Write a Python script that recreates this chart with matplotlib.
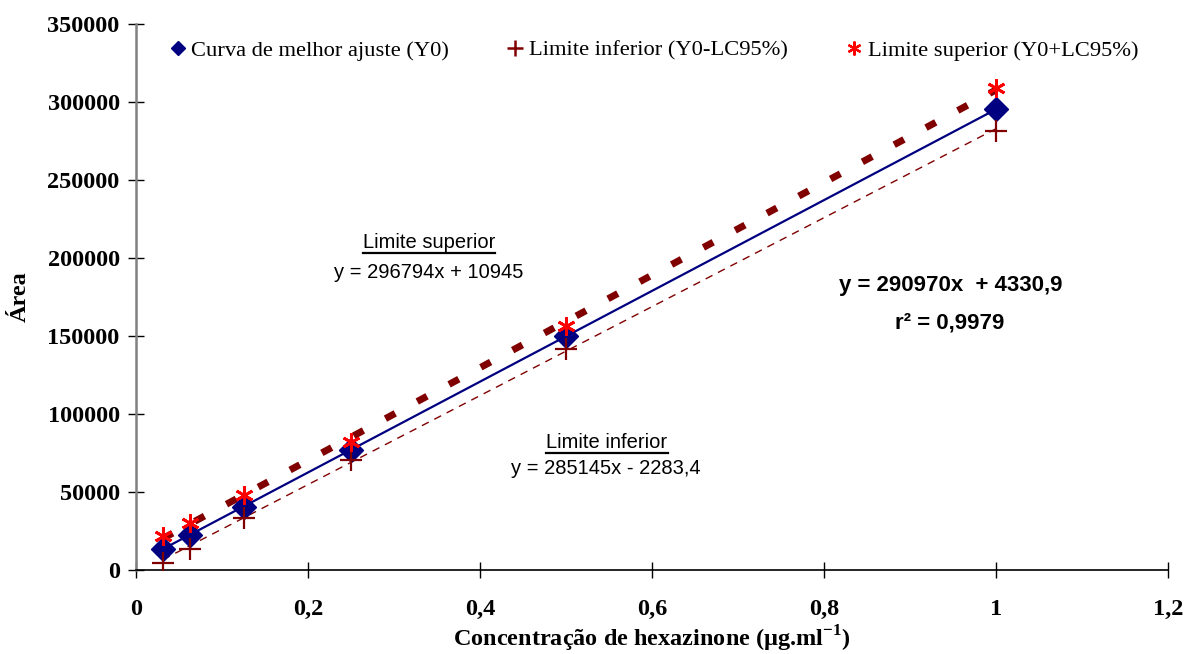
import matplotlib.pyplot as plt
import numpy as np
from matplotlib.lines import Line2D

plt.rcParams['mathtext.fontset'] = 'custom'
plt.rcParams['mathtext.rm'] = 'Liberation Serif:bold'
plt.rcParams['mathtext.bf'] = 'Liberation Serif:bold'

# concentrations (ug/ml) and areas
conc = [0.03125, 0.0625, 0.125, 0.25, 0.5, 1.0]
y0 = [13424, 22516, 40702, 77073, 149816, 295301]        # best fit curve
y_low = [4500, 13500, 33300, 70500, 141700, 281400]      # Y0 - LC95%
y_up = [21800, 30100, 48000, 82000, 156400, 309000]      # Y0 + LC95%

# trendline coefficients (slope, intercept)
fit_y0 = (290970, 4330.9)
fit_up = (296794, 10945)
fit_low = (285145, -2283.4)

xticks = [0, 0.2, 0.4, 0.6, 0.8, 1.0, 1.2]
xticklabels = ['0', '0,2', '0,4', '0,6', '0,8', '1', '1,2']
yticks = [0, 50000, 100000, 150000, 200000, 250000, 300000, 350000]

navy = '#000080'
dred = '#800000'
red = '#FF0000'

fig = plt.figure(figsize=(11.87, 6.54), dpi=100)
ax = fig.add_axes([136/1187, 84/654, 1032/1187, 546/654])

xs = np.array([conc[0], conc[-1]])
ax.plot(xs, fit_up[0]*xs + fit_up[1], color=dred, lw=5,
        linestyle=(0, (1.6, 3.6)), solid_capstyle='butt', zorder=2)
ax.plot(xs, fit_low[0]*xs + fit_low[1], color=dred, lw=1.0,
        linestyle=(0, (5.5, 4.5)), zorder=2)
ax.plot(xs, fit_y0[0]*xs + fit_y0[1], color=navy, lw=1.6, zorder=2)

ax.plot(conc, y0, linestyle='none', marker='D', ms=12.5, color=navy, zorder=3)
ax.plot(conc, y_low, linestyle='none', marker='+', ms=16, mew=1.6, color=dred, zorder=3)
ax.plot(conc, y_up, linestyle='none', marker=(6, 2, 0), ms=13, mew=2, color=red, zorder=4)

ax.set_xlim(0, 1.2)
ax.set_ylim(0, 350000)
ax.set_xticks(xticks)
ax.set_xticklabels(xticklabels)
ax.set_yticks(yticks)
ax.set_yticklabels([str(v) for v in yticks])

for s in ['top', 'right']:
    ax.spines[s].set_visible(False)
ax.spines['left'].set_color('#808080')
ax.spines['left'].set_linewidth(1.8)
ax.spines['bottom'].set_color('black')
ax.spines['bottom'].set_linewidth(1.2)
ax.tick_params(axis='both', direction='inout', length=11.5, width=1, color='black')
ax.tick_params(axis='x', pad=15)
ax.tick_params(axis='y', pad=6)
for lab in ax.get_xticklabels() + ax.get_yticklabels():
    lab.set_fontfamily('Liberation Serif')
    lab.set_fontweight('bold')
    lab.set_fontsize(17.5)

ax.set_xlabel('Concentração de hexazinone (µg.ml$^{-1}$)', family='Liberation Serif',
              fontweight='bold', fontsize=17.5, labelpad=3)
ax.set_ylabel('Área', family='Liberation Serif', fontweight='bold', fontsize=17.5, labelpad=12)

handles = [
    Line2D([], [], linestyle='none', marker='D', ms=7.5, color=navy),
    Line2D([], [], linestyle='none', marker='+', ms=11, mew=1.8, color=dred),
    Line2D([], [], linestyle='none', marker=(6, 2, 0), ms=10, mew=1.6, color=red),
]
labels = ['Curva de melhor ajuste (Y0)', 'Limite inferior (Y0-LC95%)', 'Limite superior (Y0+LC95%)']
ax.legend(handles, labels, loc='center left', bbox_to_anchor=(0.025, 0.952), ncol=3,
          frameon=False, prop={'family': 'Liberation Serif', 'size': 16.2},
          handlelength=0.6, handletextpad=0.3, columnspacing=2.65, borderaxespad=0)

def px2data(px, py):
    return ((px - 136) / 860, (570 - py) / 78 * 50000)

sans = 'Liberation Sans'
annots = []
t = ax.text(*px2data(429, 242), 'Limite superior', family=sans, fontsize=14.5, ha='center', va='center')
annots.append(t)
ax.text(*px2data(429, 272), 'y = 296794x + 10945', family=sans, fontsize=14.5, ha='center', va='center')
t = ax.text(*px2data(607, 442), 'Limite inferior', family=sans, fontsize=14.5, ha='center', va='center')
annots.append(t)
ax.text(*px2data(606, 469), 'y = 285145x - 2283,4', family=sans, fontsize=14.5, ha='center', va='center')
ax.text(*px2data(951, 285), 'y = 290970x  + 4330,9', family=sans, fontsize=16, fontweight='bold',
        ha='center', va='center')
ax.text(*px2data(950, 323), 'r² = 0,9979', family=sans, fontsize=16, fontweight='bold',
        ha='center', va='center')

# underline the two labels
fig.canvas.draw()
renderer = fig.canvas.get_renderer()
inv = fig.transFigure.inverted()
for t in annots:
    bb = t.get_window_extent(renderer)
    (x0, y0b), (x1, _) = inv.transform([(bb.x0, bb.y0), (bb.x1, bb.y0)])
    fig.add_artist(Line2D([x0, x1], [y0b - 0.002, y0b - 0.002], color='black', lw=1.6,
                          transform=fig.transFigure))

fig.savefig('out.png', dpi=100)
